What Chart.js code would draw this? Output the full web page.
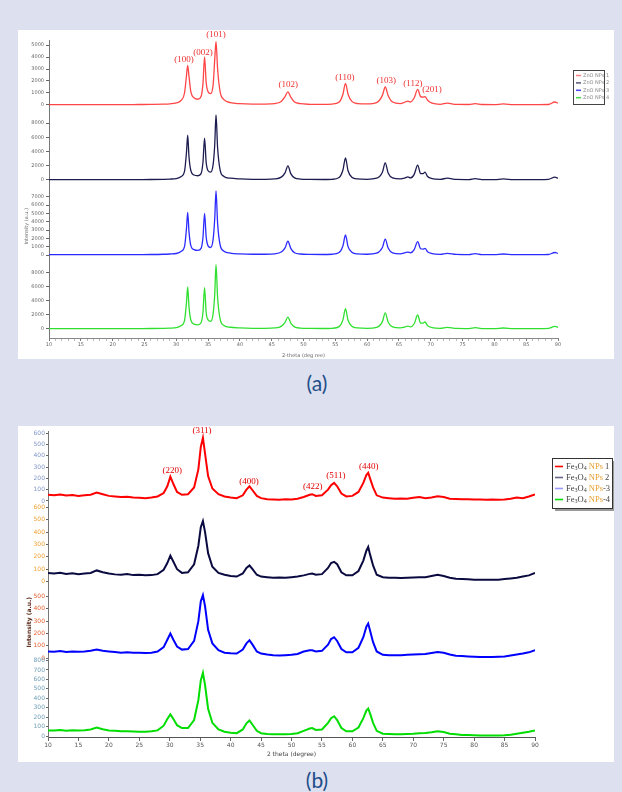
<!DOCTYPE html>
<html><head><meta charset="utf-8">
<script src="https://cdn.jsdelivr.net/npm/chart.js@4.4.0/dist/chart.umd.min.js"></script>
<style>
html,body{margin:0;padding:0;background:#dde0ee;}
body{width:622px;height:792px;position:relative;overflow:hidden;}
.panel{position:absolute;background:#fff;}
#pa{left:18px;top:30px;width:596px;height:329px;}
#pb{left:18px;top:426px;width:596px;height:336px;}
canvas{position:absolute;left:0;top:0;}
.cap{position:absolute;left:0;width:634px;text-align:center;font-family:Lato,'Open Sans',sans-serif;font-size:21px;line-height:24px;color:#1f4e8a;}
</style></head>
<body>
<div class="panel" id="pa"><canvas id="ca" width="596" height="329"></canvas></div>
<div class="cap" style="top:371px;">(a)</div>
<div class="panel" id="pb"><canvas id="cb" width="596" height="336"></canvas></div>
<div class="cap" style="top:768px;">(b)</div>
<script>
// ---------- Panel (a): ZnO NPs ----------
const twoThetaA = [10,12,14,16,18,20,22,24,26,28,
 29,30,30.8,31.3,31.6,31.8,32.0,32.3,32.8,33.4,
 33.9,34.2,34.45,34.7,35.0,35.4,35.8,36.05,36.25,36.5,
 36.9,37.5,38.5,40,42,44,45.5,46.5,47.1,47.55,
 48.0,48.6,49.5,51,53,54.5,55.6,56.2,56.6,57.0,
 57.6,58.5,60,61.5,62.4,62.85,63.3,64.0,65.2,66.0,
 66.4,66.8,67.4,67.95,68.4,68.8,69.1,69.5,70.2,71.5,
 72.6,74,76,77,78,80,81.4,83,85,87,
 88.5,89.5,90];
const znoNPs1 = [30,30,30,30,30,30,30,40,50,70,
 100,180,400,1000,2400,3300,2400,1100,600,480,
 700,1800,4000,1900,1100,950,1700,3800,5300,3000,
 1100,450,200,110,80,80,120,300,700,1100,
 650,250,110,60,50,80,250,900,1800,900,
 300,120,90,200,800,1500,800,250,120,250,
 320,250,600,1300,700,650,700,400,150,60,
 150,50,40,120,40,30,90,30,30,30,
 40,250,150];
const znoNPs2 = [50,50,50,50,50,50,50,60,70,100,
 130,200,500,1200,3800,6300,3300,1300,700,600,
 900,2500,5900,2500,1300,1100,2200,5000,9200,4500,
 1400,500,250,150,100,100,150,400,1000,2000,
 900,300,130,80,70,100,350,1400,3100,1300,
 400,150,100,250,1100,2400,1000,300,150,300,
 450,300,800,2100,900,900,1100,500,200,100,
 250,80,60,200,60,50,150,50,50,50,
 80,400,250];
const znoNPs3 = [40,40,40,40,40,40,40,50,60,90,
 120,180,450,1000,3100,5100,2800,1100,650,550,
 800,2100,5000,2200,1100,900,1900,4400,7700,3800,
 1200,450,220,130,90,90,140,350,850,1650,
 800,270,120,70,60,90,300,1100,2400,1000,
 330,130,90,220,900,1900,850,260,130,280,
 350,260,650,1600,750,700,800,400,170,80,
 200,70,50,170,50,40,120,40,40,40,
 60,300,200];
const znoNPs4 = [50,50,50,50,50,50,50,60,70,100,
 130,200,500,1200,3700,6000,3200,1250,700,600,
 900,2400,5900,2400,1300,1100,2200,5000,9200,4500,
 1400,500,250,150,100,100,150,380,950,1700,
 850,300,130,80,70,100,340,1300,2900,1250,
 380,150,100,240,1050,2300,1000,300,150,300,
 420,300,750,2000,850,850,1000,480,200,100,
 240,80,60,190,60,50,140,50,50,50,
 80,380,240];
const namesA = ['ZnO NPs 1','ZnO NPs 2','ZnO NPs 3','ZnO NPs 4'];
const hklA = ['(100)','(002)','(101)','(102)','(110)','(103)','(112)','(201)'];
const hklA2Theta = [31.2,34.2,36.25,47.6,56.5,63.0,67.2,70.2];
const hklAIntensity = [3750,4330,5830,1670,2250,2000,1750,1250];
const xTickLabelsA = [10,15,20,25,30,35,40,45,50,55,60,65,70,75,80,85,90];
const yTicksA1 = [0,1000,2000,3000,4000,5000];
const yTicksA2 = [0,2000,4000,6000,8000];
const yTicksA3 = [0,1000,2000,3000,4000,5000,6000,7000];
const yTicksA4 = [0,2000,4000,6000,8000];

// ---------- Panel (b): Fe3O4 NPs ----------
const twoThetaB = [10,11,12,13,14,15,16,17,18,19,
 20,21,22,23,24,25,26,27,28,29,
 29.6,30.1,30.6,31.2,32,33,34,34.7,35.1,35.45,
 35.8,36.3,37,38,39,40,41,42,42.6,43.1,
 43.6,44.3,45,46,47,48,49,50,51,52,
 53,53.4,54,55,56,56.5,57.0,57.5,58.2,59,
 60,61,61.8,62.3,62.6,62.9,63.4,64,65,66,
 67,68,69,70,71,72,73,74,75,76,
 77,78,79,80,81,82,83,84,85,86,
 87,88,89,90];
const feNPs1 = [55,50,58,48,52,45,50,55,75,60,
 45,40,35,38,30,28,25,30,40,70,
 130,215,150,80,55,60,120,280,480,560,
 420,220,110,60,40,30,25,50,100,130,
 95,45,25,15,12,10,15,12,20,35,
 55,60,45,50,100,140,160,130,65,40,
 45,80,160,230,250,200,120,50,30,25,
 20,22,20,28,35,25,30,42,35,20,
 18,15,15,12,12,10,12,10,12,20,
 30,25,40,58];
const feNPs2 = [70,65,72,62,68,60,65,70,90,75,
 65,58,55,60,52,55,50,52,60,95,
 150,210,160,100,70,75,140,290,440,490,
 400,230,120,70,55,45,40,65,110,130,
 100,55,40,35,30,32,30,35,40,50,
 62,65,55,60,110,150,160,140,75,50,
 50,85,170,250,280,220,130,55,35,30,
 30,28,30,32,35,35,45,55,45,30,
 22,20,18,15,15,14,15,15,20,25,
 30,40,50,70];
const feNPs3 = [55,52,58,50,55,52,55,60,70,60,
 55,50,45,48,45,45,42,45,55,90,
 150,200,150,95,70,75,140,300,460,510,
 420,230,120,65,45,40,38,70,120,145,
 110,55,38,30,25,22,25,28,35,55,
 65,65,55,60,110,155,170,140,75,48,
 48,85,170,255,280,225,130,55,28,25,
 25,25,28,30,32,35,42,50,45,30,
 20,18,15,12,10,10,10,12,15,22,
 30,38,48,65];
const feNPs4 = [60,58,65,55,62,58,62,70,90,72,
 60,55,50,52,48,45,45,50,60,110,
 180,230,180,115,85,85,170,380,590,670,
 540,290,140,70,45,35,30,70,135,165,
 120,55,30,22,20,18,20,22,30,55,
 80,85,65,70,140,190,210,170,85,50,
 50,90,190,270,290,240,140,55,25,22,
 20,20,22,25,30,32,40,50,42,25,
 18,12,10,8,6,5,5,5,8,15,
 25,35,45,60];
const namesB = ['Fe₃O₄ NPs 1','Fe₃O₄ NPs 2','Fe₃O₄ NPs-3','Fe₃O₄ NPs-4'];
const hklB = ['(220)','(311)','(400)','(422)','(511)','(440)'];
const hklB2Theta = [30.4,35.3,43.0,53.5,57.3,62.7];
const hklBIntensity = [265,620,168,124,221,301];
const xTickLabelsB = [10,15,20,25,30,35,40,45,50,55,60,65,70,75,80,85,90];
const yTicksB1 = [0,100,200,300,400,500,600];
const yTicksB2 = [0,100,200,300,400,500,600];
const yTicksB3 = [0,100,200,300,400,500];
const yTicksB4 = [0,100,200,300,400,500,600,700,800];

// ---------- helpers ----------
function pts(xs, ys){ return xs.map((x,i)=>({x:x, y:ys[i]})); }
function hklPlugin(id, labels, xs, ys, axisId, font, color){
  return {id, afterDatasetsDraw(chart){
    const c=chart.ctx, sx=chart.scales.x, sy=chart.scales[axisId];
    c.save(); c.font=font; c.fillStyle=color; c.textAlign='center'; c.textBaseline='middle';
    labels.forEach((t,i)=>c.fillText(t, sx.getPixelForValue(xs[i]), sy.getPixelForValue(ys[i])));
    c.restore();
  }};
}
function yAxis(o){
  return {
    type:'linear', position:'left', stack:o.stack, stackWeight:1, weight:o.weight,
    min:o.min, max:o.max,
    afterBuildTicks: s=>{ s.ticks = o.ticks.map(v=>({value:v})); },
    afterFit: s=>{ s.width = o.width; },
    ticks:{autoSkip:false, font:{size:o.fs, family:'DejaVu Sans'}, color:o.color, padding:o.pad, callback: v=>String(v)},
    grid:{drawOnChartArea:false, tickLength:o.tl, tickColor:'#666'},
    border:{color:'#777', width:1},
    title: o.title ? {display:true, text:o.title, color:o.titleColor, font:{size:o.fs, family:'DejaVu Sans', weight:o.titleWeight||'normal'}, padding:{top:o.titlePad, bottom:0}} : {display:false}
  };
}

// ---------- Chart (a) ----------
const colorsA = ['rgba(255,50,50,0.9)','#1c1c50','#2b2bff','#30e030'];
const legendAColors = ['#ff8080','#555577','#4444ff','#44dd44'];
const legendA = {id:'legendA', afterDraw(chart){
  const c=chart.ctx; c.save();
  c.fillStyle='#fff'; c.fillRect(555.5,40.5,31,34);
  c.strokeStyle='#444'; c.lineWidth=1; c.strokeRect(555.5,40.5,31,34);
  c.font='5px "DejaVu Sans"'; c.textBaseline='middle';
  namesA.forEach((n,i)=>{
    const y=45.5+i*7.4;
    c.strokeStyle=legendAColors[i]; c.lineWidth=1.5; c.beginPath(); c.moveTo(558,y); c.lineTo(563,y); c.stroke();
    c.fillStyle='#888'; c.fillText(n,565,y);
  });
  c.restore();
}};
const seriesA = [znoNPs1, znoNPs2, znoNPs3, znoNPs4];
new Chart(document.getElementById('ca'), {
  type:'line',
  data:{datasets: seriesA.map((s,i)=>({
    label:namesA[i], data:pts(twoThetaA, s), yAxisID:'yA'+(i+1),
    borderColor:colorsA[i], borderWidth:1.3, pointRadius:0, cubicInterpolationMode:'monotone', fill:false
  }))},
  options:{
    responsive:false, animation:false, events:[],
    layout:{padding:{left:2,right:56,top:10,bottom:0}},
    plugins:{legend:{display:false}, tooltip:{enabled:false}},
    scales:{
      x:{type:'linear', min:10, max:90,
        afterFit: s=>{ s.height=21; },
        ticks:{stepSize:1, autoSkip:false, maxRotation:0, font:{size:5, family:'DejaVu Sans'}, color:'#666', padding:1,
          callback: v => xTickLabelsA.includes(v) ? String(v) : ''},
        grid:{drawOnChartArea:false, tickLength:3, tickColor: ctx => (ctx.tick && xTickLabelsA.includes(ctx.tick.value)) ? '#777' : '#bbb'},
        border:{color:'#888'},
        title:{display:true, text:'2-theta (deg ree)', font:{size:5, family:'DejaVu Sans'}, color:'#666', padding:{top:1,bottom:0}}},
      yA1: yAxis({stack:'a', weight:4, min:-792, max:5417, ticks:yTicksA1, width:29, fs:5, color:'#666', pad:2, tl:3}),
      yA2: yAxis({stack:'a', weight:3, min:-1268, max:9225, ticks:yTicksA2, width:29, fs:5, color:'#666', pad:2, tl:3}),
      yA3: yAxis({stack:'a', weight:2, min:-1020, max:7920, ticks:yTicksA3, width:29, fs:5, color:'#666', pad:2, tl:3, title:'Intensity (a.u.)', titleColor:'#666', titlePad:4}),
      yA4: yAxis({stack:'a', weight:1, min:-1286, max:9357, ticks:yTicksA4, width:29, fs:5, color:'#666', pad:2, tl:3})
    }
  },
  plugins:[hklPlugin('hklA', hklA, hklA2Theta, hklAIntensity, 'yA1', '9px "Liberation Serif"', '#ee3030'), legendA]
});

// ---------- Chart (b) ----------
const colorsB = ['#ff0000','#0a0a40','#0000ff','#00dd00'];
const legendBColors = ['#ff0000','#666688','#9999ff','#00dd00'];
const legendB = {id:'legendB', afterDraw(chart){
  const c=chart.ctx; c.save();
  c.fillStyle='#999'; c.fillRect(537,35,60,50);
  c.fillStyle='#fff'; c.fillRect(534.5,32.5,60,50);
  c.strokeStyle='#333'; c.lineWidth=1; c.strokeRect(534.5,32.5,60,50);
  c.textBaseline='middle';
  namesB.forEach((n,i)=>{
    const y=40.5+i*11;
    c.strokeStyle=legendBColors[i]; c.lineWidth=1.6; c.beginPath(); c.moveTo(537,y); c.lineTo(545,y); c.stroke();
    let x=548; const npsAt=n.indexOf('NPs');
    for(let k=0;k<n.length;k++){
      const ch=n[k];
      if(ch==='₃'||ch==='₄'){
        c.font='6px "Liberation Serif"'; c.fillStyle='#444';
        const d = ch==='₃'?'3':'4'; c.fillText(d,x,y+2); x+=c.measureText(d).width;
      } else {
        c.font='8.5px "Liberation Serif"';
        c.fillStyle = (k>=npsAt && k<npsAt+3) ? '#e8a030' : '#444';
        c.fillText(ch,x,y); x+=c.measureText(ch).width;
      }
    }
  });
  c.restore();
}};
const seriesB = [feNPs1, feNPs2, feNPs3, feNPs4];
new Chart(document.getElementById('cb'), {
  type:'line',
  data:{datasets: seriesB.map((s,i)=>({
    label:namesB[i], data:pts(twoThetaB, s), yAxisID:'yB'+(i+1),
    borderColor:colorsB[i], borderWidth:2, pointRadius:0, tension:0, fill:false
  }))},
  options:{
    responsive:false, animation:false, events:[],
    layout:{padding:{left:2,right:79,top:5,bottom:0}},
    plugins:{legend:{display:false}, tooltip:{enabled:false}},
    scales:{
      x:{type:'linear', min:10, max:90,
        afterFit: s=>{ s.height=25; },
        ticks:{stepSize:5, autoSkip:false, maxRotation:0, font:{size:6, family:'DejaVu Sans'}, color:'#555', padding:1,
          callback: v => xTickLabelsB.includes(v) ? String(v) : ''},
        grid:{drawOnChartArea:false, tickLength:4, tickColor:'#666'},
        border:{color:'#555'},
        title:{display:true, text:'2 theta (degree)', font:{size:6, family:'DejaVu Sans'}, color:'#444', padding:{top:1,bottom:4}}},
      yB1: yAxis({stack:'b', weight:4, min:-58, max:620, ticks:yTicksB1, width:28, fs:6, color:'#8095c8', pad:1, tl:2}),
      yB2: yAxis({stack:'b', weight:3, min:-20, max:600, ticks:yTicksB2, width:28, fs:6, color:'#f0a030', pad:1, tl:2}),
      yB3: yAxis({stack:'b', weight:2, min:-18, max:600, ticks:yTicksB3, width:28, fs:6, color:'#e86030', pad:1, tl:2, title:'Intensity (a.u.)', titleColor:'#5a2a1a', titleWeight:'bold', titlePad:6}),
      yB4: yAxis({stack:'b', weight:1, min:-10, max:800, ticks:yTicksB4, width:28, fs:6, color:'#70a0b8', pad:1, tl:2})
    }
  },
  plugins:[hklPlugin('hklB', hklB, hklB2Theta, hklBIntensity, 'yB1', '9px "Liberation Serif"', '#e00000'), legendB]
});
</script>
</body></html>
